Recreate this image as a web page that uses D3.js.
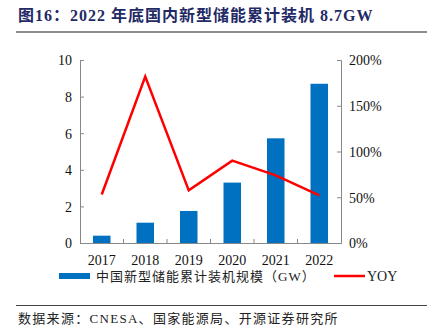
<!DOCTYPE html>
<meta charset="utf-8">
<script src="https://d3js.org/d3.v7.min.js"></script>
<style>
  body { margin: 0; background: #fff; }
  svg text { font-family: "Liberation Serif", "Noto Sans CJK SC", serif; }
</style>
<div id="chart"></div>
<script>

// cumulative new-type energy storage capacity in China
var years = ["2017", "2018", "2019", "2020", "2021", "2022"];
var capacity = [0.40, 1.11, 1.75, 3.30, 5.72, 8.70];   // GW
var yoy = [0.53, 1.82, 0.575, 0.90, 0.74, 0.52];       // growth rate
var leftTicks = [0, 2, 4, 6, 8, 10];
var rightTicks = [0, 0.5, 1, 1.5, 2];

var W = 427, H = 328;
var margin = {top: 60, right: 86, bottom: 85, left: 80},
    width = W - margin.left - margin.right,
    height = H - margin.top - margin.bottom;

var svg = d3.select("#chart")
  .append("svg")
    .attr("width", W)
    .attr("height", H);

// title and rules
svg.append("text")
  .attr("x", 18)
  .attr("y", 21)
  .attr("fill", "#1f2a66")
  .attr("font-size", 16)
  .attr("font-weight", "bold")
  .style("letter-spacing", "1px")
  .style("font-family", "'Liberation Serif', 'Noto Sans CJK SC', serif")
  .text("图16：2022 年底国内新型储能累计装机 8.7GW");

svg.append("line")
  .attr("x1", 16).attr("x2", W)
  .attr("y1", 32).attr("y2", 32)
  .attr("stroke", "#8c8c8c")
  .attr("stroke-width", 2);

svg.append("line")
  .attr("x1", 16).attr("x2", W)
  .attr("y1", 305.5).attr("y2", 305.5)
  .attr("stroke", "#444")
  .attr("stroke-width", 1);

svg.append("text")
  .attr("x", 18)
  .attr("y", 323)
  .attr("fill", "#222")
  .attr("font-size", 13)
  .style("letter-spacing", "1.3px")
  .text("数据来源：CNESA、国家能源局、开源证券研究所");

var g = svg.append("g")
  .attr("transform", "translate(" + margin.left + "," + margin.top + ")");

var x = d3.scaleBand()
  .domain(years)
  .range([0, width])
  .paddingInner(0)
  .paddingOuter(0);

var y = d3.scaleLinear()
  .domain([0, 10])
  .range([height, 0]);

var y2 = d3.scaleLinear()
  .domain([0, 2])
  .range([height, 0]);

// bars
var barW = 17.5;
g.selectAll("rect.bar")
  .data(capacity)
  .enter()
  .append("rect")
    .attr("class", "bar")
    .attr("x", function(d, i) { return x(years[i]) + x.bandwidth() / 2 - barW / 2; })
    .attr("y", function(d) { return y(d); })
    .attr("width", barW)
    .attr("height", function(d) { return height - y(d); })
    .attr("fill", "#0070c0");

// left axis
var yAxis = g.append("g")
  .call(d3.axisLeft(y).tickValues(leftTicks).tickSize(-4).tickPadding(8));

// right axis
var y2Axis = g.append("g")
  .attr("transform", "translate(" + width + ",0)")
  .call(d3.axisRight(y2).tickValues(rightTicks).tickSize(-4).tickPadding(8)
    .tickFormat(function(d) { return Math.round(d * 100) + "%"; }));

// bottom axis, ticks sit between categories
var xAxis = g.append("g")
  .attr("transform", "translate(0," + height + ")")
  .call(d3.axisBottom(x).tickSize(0).tickPadding(12));

xAxis.selectAll(".sep")
  .data(years.slice(1))
  .enter()
  .append("line")
    .attr("class", "sep")
    .attr("x1", function(d) { return x(d); })
    .attr("x2", function(d) { return x(d); })
    .attr("y1", 0)
    .attr("y2", -4)
    .attr("stroke", "#888");

[yAxis, y2Axis, xAxis].forEach(function(a) {
  a.select(".domain").attr("stroke", "#888");
  a.selectAll(".tick line").attr("stroke", "#888");
  a.selectAll("text")
    .attr("fill", "#111")
    .attr("font-size", 14)
    .style("font-family", "'Liberation Serif', serif");
});
yAxis.selectAll("text").attr("dy", "0.35em");
y2Axis.selectAll("text").attr("dy", "0.35em");

// yoy line
var line = d3.line()
  .x(function(d, i) { return x(years[i]) + x.bandwidth() / 2; })
  .y(function(d) { return y2(d); });

g.append("path")
  .datum(yoy)
  .attr("d", line)
  .attr("fill", "none")
  .attr("stroke", "#ff0000")
  .attr("stroke-width", 2.5)
  .attr("stroke-linejoin", "miter");

// legend
var legend = svg.append("g").attr("transform", "translate(0,276)");
legend.append("rect")
  .attr("x", 59).attr("y", -3)
  .attr("width", 31).attr("height", 6)
  .attr("fill", "#0070c0");
legend.append("text")
  .attr("x", 96).attr("y", 5)
  .attr("font-size", 13)
  .attr("fill", "#222")
  .style("letter-spacing", "1px")
  .text("中国新型储能累计装机规模（GW）");
legend.append("line")
  .attr("x1", 334).attr("x2", 365)
  .attr("y1", 0).attr("y2", 0)
  .attr("stroke", "#ff0000")
  .attr("stroke-width", 2.5);
legend.append("text")
  .attr("x", 367).attr("y", 5)
  .attr("font-size", 14)
  .attr("fill", "#222")
  .text("YOY");

</script>
